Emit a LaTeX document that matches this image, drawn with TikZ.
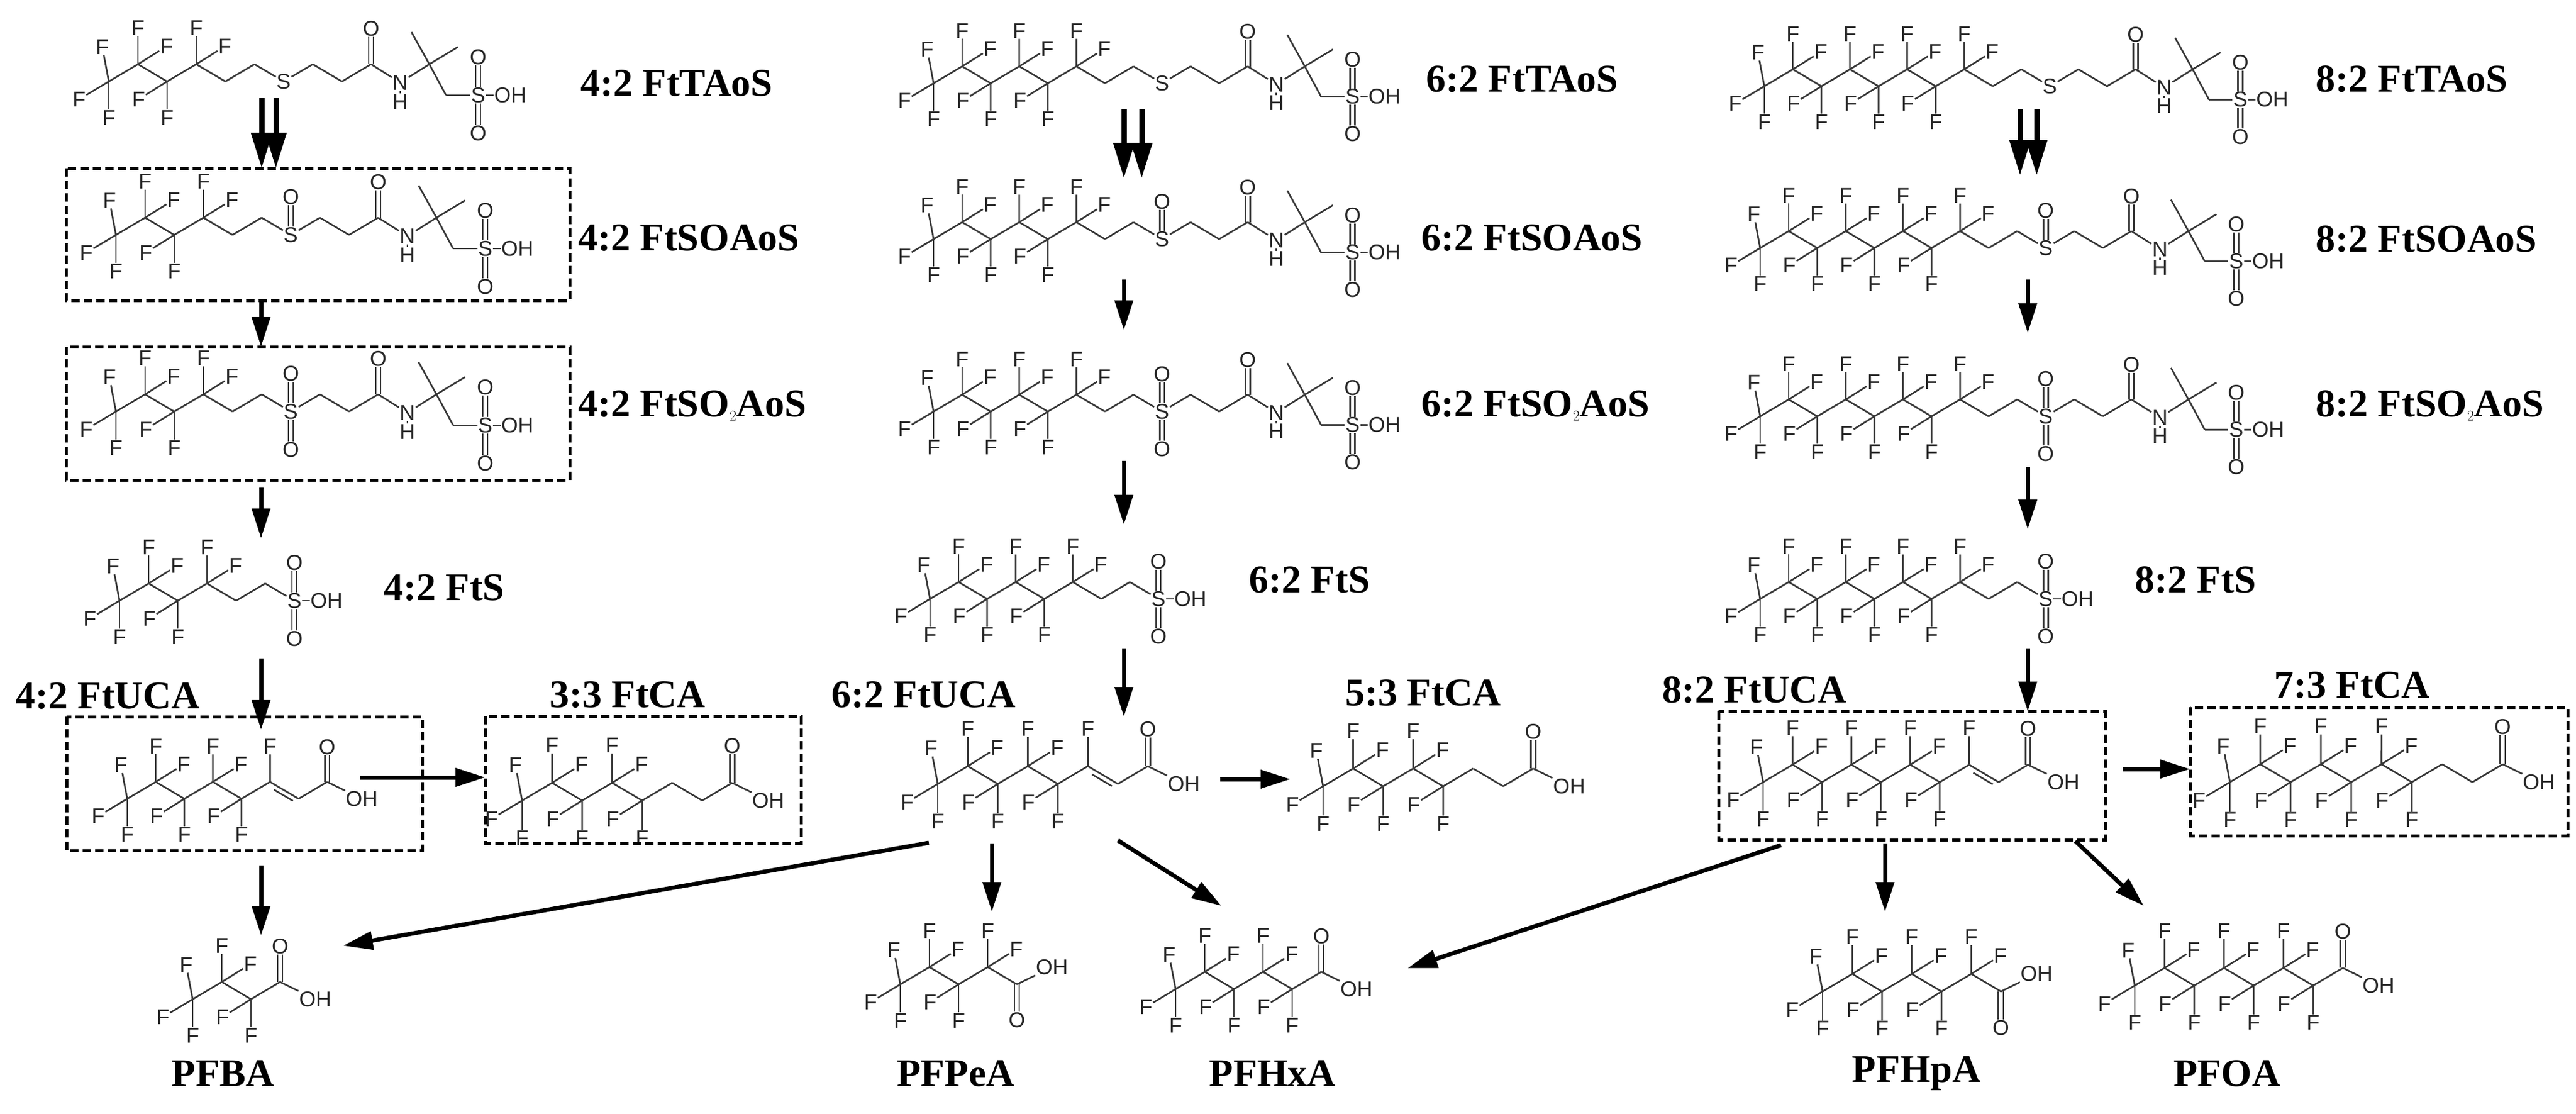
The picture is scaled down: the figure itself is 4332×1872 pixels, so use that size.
\documentclass[tikz,border=0pt]{standalone}
\usepackage{fontspec}
\setmainfont{Liberation Serif}
\setsansfont{Liberation Sans}
\usetikzlibrary{arrows.meta,calc}
\tikzset{
 bond/.style={line width=2.8pt, draw=black!78},
 atom/.style={font=\fontsize{36}{36}\selectfont\sffamily, text=black!85, inner sep=1pt},
 lbl/.style={font=\fontsize{66}{66}\selectfont\bfseries, inner sep=0pt, anchor=west},
 plbl/.style={font=\fontsize{66}{66}\selectfont\bfseries, inner sep=0pt},
 box/.style={line width=5pt, dash pattern=on 14pt off 7pt},
 arr/.style={line width=7pt, -{Triangle[width=30pt,length=50pt]}},
 darr/.style={line width=9pt, -{Triangle[width=34pt,length=60pt]}},
}
\newcommand\px{\i*49}
\newcommand\subst[4]{\node[atom] (\cur-#1) at ({\px+(#2)},{\yy+(#3)}) {#4}; \draw[bond] (\cur) -- (\cur-#1);}
\newcommand\dbv[2]{\draw[bond] ([xshift=-4pt]#1) -- ([xshift=-4pt]#2); \draw[bond] ([xshift=4pt]#1) -- ([xshift=4pt]#2);}
\newcommand\prevbond{\ifnum\i>0 \draw[bond] (\prev) -- (\cur);\fi}
\pgfkeys{
 /mol/C/.code={\coordinate (\cur) at ({\px},\yy); \prevbond},
 /mol/T/.code={\coordinate (\cur) at ({\px},\yy); \prevbond
   \subst{a}{-50}{30}{F}\subst{b}{0}{61}{F}\subst{c}{-11}{-58}{F}},
 /mol/F2/.code={\coordinate (\cur) at ({\px},\yy); \prevbond
   \subst{a}{0}{61*\ss}{F}\subst{b}{-48*\ss}{30*\ss}{F}},
 /mol/F1/.code={\coordinate (\cur) at ({\px},\yy); \prevbond \subst{a}{0}{61*\ss}{F}},
 /mol/D/.code={\coordinate (\cur) at ({\px},\yy); \prevbond
   \path ($(\prev)!0.22!(\cur)$) coordinate (\cur-d1) ($(\prev)!0.88!(\cur)$) coordinate (\cur-d2);
   \draw[bond] ([shift={(-4pt,-7pt)}]\cur-d1) -- ([shift={(-4pt,-7pt)}]\cur-d2);},
 /mol/S/.code={\node[atom] (\cur) at ({\px},\yy) {S}; \prevbond},
 /mol/SO/.code={\node[atom] (\cur) at ({\px},\yy) {S}; \prevbond
   \node[atom] (\cur-o) at ({\px},\yy-64) {O}; \dbv{\cur.north}{\cur-o.south}},
 /mol/SO2/.code={\node[atom] (\cur) at ({\px},\yy) {S}; \prevbond
   \node[atom] (\cur-o) at ({\px},\yy-64) {O}; \dbv{\cur.north}{\cur-o.south}
   \node[atom] (\cur-p) at ({\px},\yy+64) {O}; \dbv{\cur.south}{\cur-p.north}},
 /mol/CO/.code={\coordinate (\cur) at ({\px},\yy); \prevbond
   \ifnum\ss<0 \node[atom] (\cur-o) at ({\px},\yy-60) {O}; \dbv{\cur}{\cur-o.south}
   \else \node[atom] (\cur-o) at ({\px},\yy+60) {O}; \dbv{\cur}{\cur-o.north}\fi},
 /mol/OH/.code={\node[atom,anchor=west,xshift=-12pt] (\cur) at ({\px-6},\yy) {OH}; \prevbond},
 /mol/N/.code={\node[atom] (\cur) at ({\px},\yy+2) {N}; \prevbond
   \node[atom] (\cur-h) at ({\px},\yy+34) {H}; \draw[bond] (\cur.south) -- (\cur-h.north);},
 /mol/Q/.code={\coordinate (\cur) at ({\px},\yy); \prevbond
   \coordinate (\cur-m1) at ({\px-30},\yy-54); \draw[bond] (\cur) -- (\cur-m1);
   \coordinate (\cur-m2) at ({\px+48},\yy-29); \draw[bond] (\cur) -- (\cur-m2);
   \coordinate (\cur-c) at ({\px+28},\yy+52); \draw[bond] (\cur) -- (\cur-c);
   \node[atom] (\cur-s) at ({\px+82},\yy+52) {S}; \draw[bond] (\cur-c) -- (\cur-s);
   \node[atom] (\cur-o) at ({\px+82},\yy-12) {O}; \dbv{\cur-s.north}{\cur-o.south}
   \node[atom] (\cur-p) at ({\px+82},\yy+116) {O}; \dbv{\cur-s.south}{\cur-p.north}
   \node[atom,anchor=west] (\cur-oh) at ({\px+108},\yy+52) {OH}; \draw[bond] (\cur-s) -- (\cur-oh);},
 /mol/SS/.code={\node[atom] (\cur) at ({\px},\yy) {S}; \prevbond
   \node[atom] (\cur-o) at ({\px},\yy-64) {O}; \dbv{\cur.north}{\cur-o.south}
   \node[atom] (\cur-p) at ({\px},\yy+64) {O}; \dbv{\cur.south}{\cur-p.north}
   \node[atom,anchor=west] (\cur-oh) at ({\px+26},\yy) {OH}; \draw[bond] (\cur) -- (\cur-oh);},
}
\newcommand\mol[4]{%
\begin{scope}[shift={#2},scale=#3]
\foreach \t [count=\i from 0] in {#4}{%
  \pgfmathtruncatemacro\pp{mod(\i,2)}%
  \pgfmathtruncatemacro\mj{\i-1}%
  \ifnum\pp=1 \def\ss{-1}\def\yy{-29}\else\def\ss{1}\def\yy{0}\fi
  \edef\cur{#1-\i}\edef\prev{#1-\mj}%
  \edef\tmp{\noexpand\pgfkeys{/mol/\t}}\tmp
}
\end{scope}}
\begin{document}
\begin{tikzpicture}[x=1pt,y=-1pt]
\useasboundingbox (0,0) rectangle (4332,1872);
% ---------- column 1 ----------
\mol{aa}{(183,137)}{1}{T,F2,F2,F2,C,C,S,C,C,CO,N,Q}
\mol{ab}{(195,395)}{1}{T,F2,F2,F2,C,C,SO,C,C,CO,N,Q}
\mol{ac}{(195,692)}{1}{T,F2,F2,F2,C,C,SO2,C,C,CO,N,Q}
\mol{ad}{(201,1010)}{1}{T,F2,F2,F2,C,C,SS}
\mol{ae}{(214,1343)}{0.98}{T,F2,F2,F2,F2,F1,D,CO,OH}
\mol{af}{(878,1346)}{1.03}{T,F2,F2,F2,F2,C,C,CO,OH}
\mol{ag}{(324,1680)}{1}{T,F2,F2,CO,OH}
% ---------- column 2 ----------
\mol{ba}{(1570,140)}{0.98}{T,F2,F2,F2,F2,F2,C,C,S,C,C,CO,N,Q}
\mol{bb}{(1570,402)}{0.98}{T,F2,F2,F2,F2,F2,C,C,SO,C,C,CO,N,Q}
\mol{bc}{(1570,692)}{0.98}{T,F2,F2,F2,F2,F2,C,C,SO2,C,C,CO,N,Q}
\mol{bd}{(1564,1007)}{0.98}{T,F2,F2,F2,F2,F2,C,C,SS}
\mol{be}{(1577,1318)}{1.03}{T,F2,F2,F2,F2,F1,D,CO,OH}
\mol{bf}{(2225,1322)}{1.03}{T,F2,F2,F2,F2,C,C,CO,OH}
\mol{bg}{(1514,1655)}{1.0}{T,F2,F2,F2,CO,OH}
\mol{bh}{(1977,1663)}{1.0}{T,F2,F2,F2,F2,CO,OH}
% ---------- column 3 ----------
\mol{ca}{(2967,145)}{0.98}{T,F2,F2,F2,F2,F2,F2,F2,C,C,S,C,C,CO,N,Q}
\mol{cb}{(2960,417)}{0.98}{T,F2,F2,F2,F2,F2,F2,F2,C,C,SO,C,C,CO,N,Q}
\mol{cc}{(2960,700)}{0.98}{T,F2,F2,F2,F2,F2,F2,F2,C,C,SO2,C,C,CO,N,Q}
\mol{cd}{(2960,1007)}{0.98}{T,F2,F2,F2,F2,F2,F2,F2,C,C,SS}
\mol{ce}{(2965,1315)}{1.01}{T,F2,F2,F2,F2,F2,F2,F1,D,CO,OH}
\mol{cf}{(3750,1315)}{1.04}{T,F2,F2,F2,F2,F2,F2,C,C,CO,OH}
\mol{cg}{(3065,1667)}{1.02}{T,F2,F2,F2,F2,F2,CO,OH}
\mol{ch}{(3590,1657)}{1.02}{T,F2,F2,F2,F2,F2,F2,CO,OH}
% ---------- labels ----------
\node[lbl] (l1) at (976,140) {4:2 FtTAoS};
\node[lbl] (l2) at (972,400) {4:2 FtSOAoS};
\node[lbl] (l3) at (972,682) {4:2 FtSO$_2$AoS};
\node[lbl] (l4) at (645,988) {4:2 FtS};
\node[lbl] (l5) at (26,1170) {4:2 FtUCA};
\node[lbl] (l6) at (924,1168) {3:3 FtCA};
\node[lbl] (m1) at (2398,133) {6:2 FtTAoS};
\node[lbl] (m2) at (2390,400) {6:2 FtSOAoS};
\node[lbl] (m3) at (2390,682) {6:2 FtSO$_2$AoS};
\node[lbl] (m4) at (2100,975) {6:2 FtS};
\node[lbl] (m5) at (1398,1168) {6:2 FtUCA};
\node[lbl] (m6) at (2262,1165) {5:3 FtCA};
\node[lbl] (n1) at (3894,133) {8:2 FtTAoS};
\node[lbl] (n2) at (3894,402) {8:2 FtSOAoS};
\node[lbl] (n3) at (3894,682) {8:2 FtSO$_2$AoS};
\node[lbl] (n4) at (3590,975) {8:2 FtS};
\node[lbl] (n5) at (2795,1160) {8:2 FtUCA};
\node[lbl] (n6) at (3824,1152) {7:3 FtCA};
\node[plbl] (p1) at (375,1805) {PFBA};
\node[plbl] (p2) at (1607,1805) {PFPeA};
\node[plbl] (p3) at (2140,1805) {PFHxA};
\node[plbl] (p4) at (3223,1805) {PFHpA};
\node[plbl] (p5) at (3745,1805) {PFOA};
% ---------- boxes ----------
\draw[box] (111,283) rectangle (958,505);
\draw[box] (111,583) rectangle (958,807);
\draw[box] (112,1205) rectangle (710,1430);
\draw[box] (816,1204) rectangle (1347,1418);
\draw[box] (2890,1196) rectangle (3540,1412);
\draw[box] (3683,1189) rectangle (4318,1405);
% ---------- arrow endpoints ----------
\foreach \nm/\x/\y in {
 d1s/440/165, d1e/440/283, d2s/464/165, d2e/464/283,
 d3s/1890/183, d3e/1890/300, d4s/1920/183, d4e/1920/300,
 d5s/3397/183, d5e/3397/295, d6s/3425/183, d6e/3425/295,
 a1s/439/505, a1e/439/583, a2s/439/820, a2e/439/905, a3s/439/1107, a3e/439/1227, a4s/439/1455, a4e/439/1573,
 b1s/1890/470, b1e/1890/555, b2s/1890/775, b2e/1890/882, b3s/1890/1090, b3e/1890/1205,
 c1s/3410/470, c1e/3410/560, c2s/3410/785, c2e/3410/890, c3s/3410/1090, c3e/3410/1196,
 r1s/605/1307, r1e/816/1307, r2s/2052/1310, r2e/2170/1310, r3s/3570/1293, r3e/3683/1293,
 e1s/1562/1417, e1e/577/1590, e2s/1668/1418, e2e/1668/1533, e3s/1880/1413, e3e/2054/1523,
 f1s/2995/1421, f1e/2367/1628, f2s/3170/1418, f2e/3170/1533, f3s/3490/1414, f3e/3605/1523}
 {\coordinate (\nm) at (\x,\y);}
\foreach \p in {d1,d2,d3,d4,d5,d6}{\draw[darr] (\p s) -- (\p e);}
\foreach \p in {a1,a2,a3,a4,b1,b2,b3,c1,c2,c3,r1,r2,r3,e1,e2,e3,f1,f2,f3}{\draw[arr] (\p s) -- (\p e);}
\end{tikzpicture}
\end{document}
